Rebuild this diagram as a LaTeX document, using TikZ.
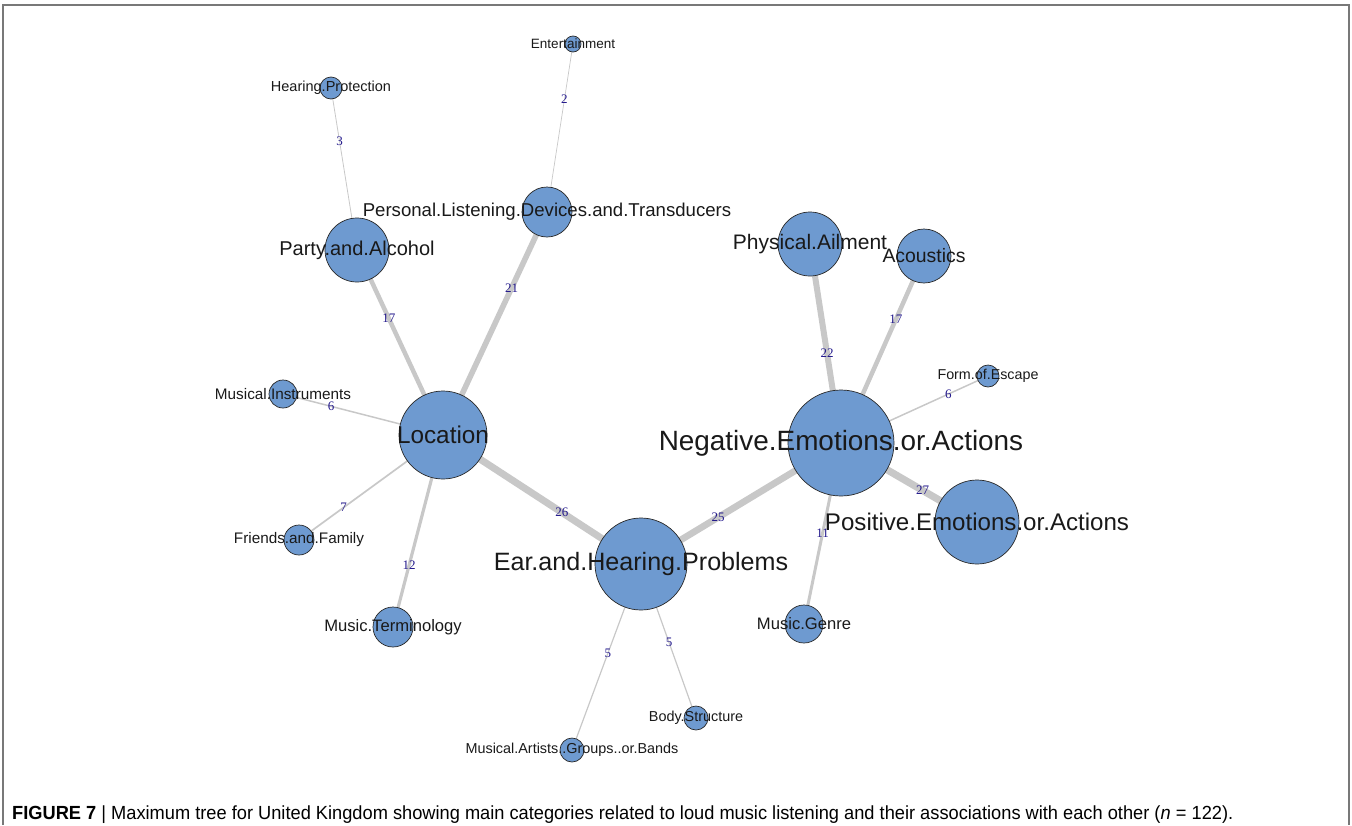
\documentclass[tikz,border=0pt]{standalone}
\usepackage{fontspec}
\setmainfont{Liberation Sans}
\newfontfamily\edgefont{Liberation Serif}
\usetikzlibrary{backgrounds}

\definecolor{vfill}{RGB}{110,154,208}
\definecolor{vline}{RGB}{40,40,40}
\definecolor{edgegray}{RGB}{200,200,200}
\definecolor{elabcol}{RGB}{35,25,140}
\definecolor{framegray}{RGB}{120,120,120}

\tikzset{
  vtx/.style={circle, draw=vline, line width=0.7pt, fill=vfill, inner sep=0pt, minimum size=#1},
  vlab/.style={inner sep=0pt, text=black!90, font=\fontsize{#1}{#1}\selectfont},
  edge/.style={draw=edgegray, line width=#1, line cap=butt},
  elab/.style={inner sep=0pt, text=elabcol, font=\edgefont\fontsize{13}{13}\selectfont},
}

\newcommand{\vertex}[6]{%
  % #1 name, #2 x, #3 y, #4 radius, #5 label, #6 label size
  \node[vtx={2*#4}] (#1) at (#2,#3) {};
  \node[vlab={#6}] (#1-t) at (#2,#3) {#5};
}

\begin{document}
\begin{tikzpicture}[x=1pt, y=-1pt]
\useasboundingbox (0,0) rectangle (1352,825);

% outer frame, open at the bottom
\draw[framegray, line width=1.5pt] (3,825) -- (3,5) -- (1349,5) -- (1349,825);

% circles first, label texts on top of them
\node[vtx=16] (ent) at (573,44) {};
\node[vtx=22] (hp) at (331,88) {};
\node[vtx=50] (pld) at (547,212) {};
\node[vtx=64] (pa) at (357,250) {};
\node[vtx=64] (phy) at (810,244) {};
\node[vtx=54] (aco) at (924,256) {};
\node[vtx=22] (foe) at (988,376) {};
\node[vtx=28] (mi) at (283,394) {};
\node[vtx=88] (loc) at (443,435) {};
\node[vtx=106] (neg) at (841,443) {};
\node[vtx=84] (pos) at (977,522) {};
\node[vtx=30] (ff) at (299,540) {};
\node[vtx=92] (ear) at (641,564) {};
\node[vtx=40] (mt) at (393,627) {};
\node[vtx=38] (mg) at (804,624) {};
\node[vtx=24] (bs) at (696,718) {};
\node[vtx=24] (ma) at (572,750) {};

\node[vlab=13.5] (ent-t) at (ent) {Entertainment};
\node[vlab=14.5] (hp-t) at (hp) {Hearing.Protection};
\node[vlab=18.6] (pld-t) at (pld) {Personal.Listening.Devices.and.Transducers};
\node[vlab=20] (pa-t) at (pa) {Party.and.Alcohol};
\node[vlab=21] (phy-t) at (phy) {Physical.Ailment};
\node[vlab=19.4] (aco-t) at (aco) {Acoustics};
\node[vlab=14.3] (foe-t) at (foe) {Form.of.Escape};
\node[vlab=15.3] (mi-t) at (mi) {Musical.Instruments};
\node[vlab=24.3] (loc-t) at (loc) {Location};
\node[vlab=27.9] (neg-t) at (neg) {Negative.Emotions.or.Actions};
\node[vlab=24.1] (pos-t) at (pos) {Positive.Emotions.or.Actions};
\node[vlab=15.3] (ff-t) at (ff) {Friends.and.Family};
\node[vlab=25.1] (ear-t) at (ear) {Ear.and.Hearing.Problems};
\node[vlab=16.6] (mt-t) at (mt) {Music.Terminology};
\node[vlab=16.6] (mg-t) at (mg) {Music.Genre};
\node[vlab=14.4] (bs-t) at (bs) {Body.Structure};
\node[vlab=14.4] (ma-t) at (ma) {Musical.Artists..Groups..or.Bands};

% weighted edges of the tree, behind the circles
\begin{pgfonlayer}{background}
\draw[edge=0.7pt] (ent.center) -- (pld.center) node[elab, pos=0.33] (e1) {2};
\draw[edge=0.8pt] (hp.center) -- (pa.center) node[elab, pos=0.33] (e2) {3};
\draw[edge=4.5pt] (pa.center) -- (loc.center) node[elab, pos=0.37] (e3) {17};
\draw[edge=5.6pt] (pld.center) -- (loc.center) node[elab, pos=0.34] (e4) {21};
\draw[edge=1.5pt] (mi.center) -- (loc.center) node[elab, pos=0.30] (e5) {6};
\draw[edge=1.7pt] (ff.center) -- (loc.center) node[elab, pos=0.31] (e6) {7};
\draw[edge=3.2pt] (mt.center) -- (loc.center) node[elab, pos=0.32] (e7) {12};
\draw[edge=7pt] (loc.center) -- (ear.center) node[elab, pos=0.60] (e8) {26};
\draw[edge=6.7pt] (ear.center) -- (neg.center) node[elab, pos=0.385] (e9) {25};
\draw[edge=6pt] (phy.center) -- (neg.center) node[elab, pos=0.55] (e10) {22};
\draw[edge=4.5pt] (aco.center) -- (neg.center) node[elab, pos=0.34] (e11) {17};
\draw[edge=1.5pt] (foe.center) -- (neg.center) node[elab, pos=0.27] (e12) {6};
\draw[edge=7.2pt] (neg.center) -- (pos.center) node[elab, pos=0.60] (e13) {27};
\draw[edge=3pt] (mg.center) -- (neg.center) node[elab, pos=0.50] (e14) {11};
\draw[edge=1.2pt] (ear.center) -- (ma.center) node[elab, pos=0.48] (e15) {5};
\draw[edge=1.2pt] (ear.center) -- (bs.center) node[elab, pos=0.51] (e16) {5};
\end{pgfonlayer}

% caption
\node[anchor=base west, inner sep=0pt] (cap) at (12,819)
  {\resizebox{1221pt}{\height}{\fontsize{19}{19}\selectfont\textbf{FIGURE 7} | Maximum tree for United Kingdom showing main categories related to loud music listening and their associations with each other (\textit{n} = 122).}};
\end{tikzpicture}
\end{document}
